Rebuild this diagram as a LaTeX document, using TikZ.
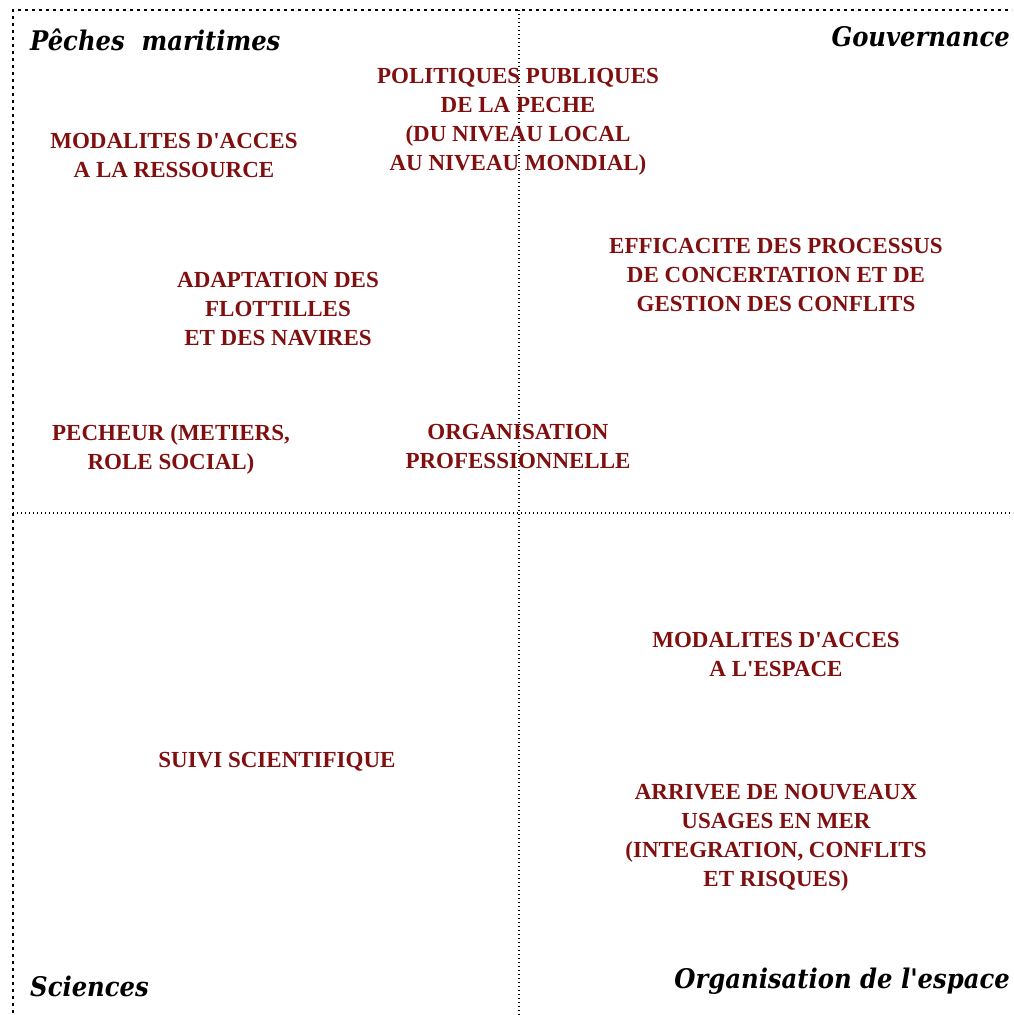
\documentclass[tikz,border=0pt]{standalone}
\usepackage{fontspec}
\setmainfont{Liberation Serif}[Ligatures=TeXOff]
\newfontfamily\cornerfont{DejaVu Serif Condensed}[Ligatures=TeXOff]
\definecolor{darkred}{RGB}{128,16,16}
\tikzset{
  topic/.style={text=darkred, align=center, font=\fontsize{23}{29}\selectfont\bfseries, inner sep=0pt},
  corner/.style={font=\cornerfont\fontsize{27}{30}\selectfont\bfseries\itshape, inner sep=0pt, text=black},
  border/.style={line width=2.6pt, dash pattern=on 2.6pt off 4.4pt},
  axis/.style={line width=1.3pt, dash pattern=on 1.4pt off 2.6pt}
}
\begin{document}
\begin{tikzpicture}[x=1pt,y=-1pt]
\useasboundingbox (0,0) rectangle (1014,1015);
\coordinate (tl) at (13,10);
\coordinate (tr) at (1012,10);
\coordinate (bl) at (13,1013);
\coordinate (vt) at (519,10);
\coordinate (vb) at (519,1015);
\coordinate (hl) at (13,513);
\coordinate (hr) at (1013,513);
\draw[border] (bl) -- (tl) -- (tr);
\draw[axis] (vt) -- (vb);
\draw[axis] (hl) -- (hr);

\node[corner, anchor=base west] (peche) at (30,50) {Pêches\ \ maritimes};
\node[corner, anchor=base east] (gouv) at (1010,46) {Gouvernance};
\node[corner, anchor=base west] (sci) at (30,996) {Sciences};
\node[corner, anchor=base east] (orga) at (1010,988) {Organisation de l'espace};

\node[topic] (pol) at (518,122) {POLITIQUES PUBLIQUES\\DE LA PECHE\\(DU NIVEAU LOCAL\\AU NIVEAU MONDIAL)};
\node[topic] (modr) at (174,155) {MODALITES D'ACCES\\A LA RESSOURCE};
\node[topic] (eff) at (776,275) {EFFICACITE DES PROCESSUS\\DE CONCERTATION ET DE\\GESTION DES CONFLITS};
\node[topic] (adap) at (278,309) {ADAPTATION DES\\FLOTTILLES\\ET DES NAVIRES};
\node[topic] (pech) at (171,449) {PECHEUR (METIERS,\\ROLE SOCIAL)};
\node[topic] (orgp) at (518,446) {ORGANISATION\\PROFESSIONNELLE};
\node[topic] (mode) at (776,654) {MODALITES D'ACCES\\A L'ESPACE};
\node[topic] (suivi) at (277,762) {SUIVI SCIENTIFIQUE};
\node[topic] (arr) at (776,838) {ARRIVEE DE NOUVEAUX\\USAGES EN MER\\(INTEGRATION, CONFLITS\\ET RISQUES)};
\end{tikzpicture}
\end{document}
